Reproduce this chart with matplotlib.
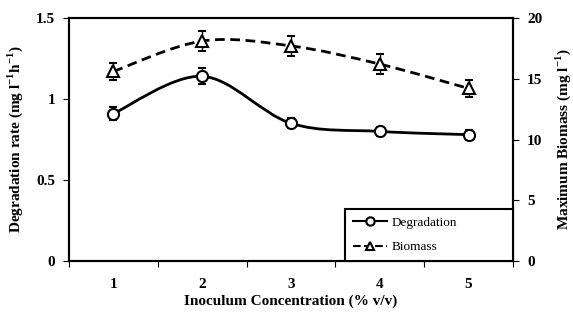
import numpy as np
import matplotlib
matplotlib.use("Agg")
import matplotlib.pyplot as plt
from matplotlib.path import Path
from matplotlib.patches import PathPatch
from matplotlib.lines import Line2D

plt.rcParams['font.family'] = ['Liberation Serif', 'DejaVu Serif']
plt.rcParams['font.weight'] = 'bold'
plt.rcParams['mathtext.fontset'] = 'custom'
plt.rcParams['mathtext.rm'] = 'Liberation Serif:bold'
plt.rcParams['mathtext.bf'] = 'Liberation Serif:bold'

concentration = [1, 2, 3, 4, 5]
degradation = [0.91, 1.14, 0.85, 0.80, 0.78]
degradation_err = [0.04, 0.05, 0.03, 0.03, 0.03]
biomass = [15.6, 18.1, 17.7, 16.2, 14.2]
biomass_err = [0.7, 0.8, 0.8, 0.8, 0.7]
x_tick_labels = ['1', '2', '3', '4', '5']


def smooth_path(x, y, tension=0.5):
    """Catmull-Rom style Bezier path through the data points."""
    x = np.asarray(x, float)
    y = np.asarray(y, float)
    verts = [(x[0], y[0])]
    codes = [Path.MOVETO]
    n = len(x)
    for i in range(n - 1):
        x0, y0 = (x[i - 1], y[i - 1]) if i > 0 else (x[i], y[i])
        x3, y3 = (x[i + 2], y[i + 2]) if i + 2 < n else (x[i + 1], y[i + 1])
        c1 = (x[i] + (x[i + 1] - x0) * tension / 3, y[i] + (y[i + 1] - y0) * tension / 3)
        c2 = (x[i + 1] - (x3 - x[i]) * tension / 3, y[i + 1] - (y3 - y[i]) * tension / 3)
        verts += [c1, c2, (x[i + 1], y[i + 1])]
        codes += [Path.CURVE4] * 3
    return Path(verts, codes)


fig = plt.figure(figsize=(5.73, 3.2), dpi=100)
ax = fig.add_axes([0.1204, 0.184, 0.7749, 0.76])
ax2 = ax.twinx()

ax.add_patch(PathPatch(smooth_path(concentration, degradation, 0.5), fill=False,
                       lw=2.0, color='black', zorder=2))
ax.errorbar(concentration, degradation, yerr=degradation_err, fmt='o', ms=8,
            mfc='white', mec='black', mew=1.5, ecolor='black', elinewidth=1,
            capsize=3, zorder=3)

ax2.add_patch(PathPatch(smooth_path(concentration, biomass, 0.5), fill=False,
                        lw=2.0, color='black', ls=(0, (3.5, 2)), zorder=2))
ax2.errorbar(concentration, biomass, yerr=biomass_err, fmt='^', ms=8,
             mfc='white', mec='black', mew=1.5, ecolor='black', elinewidth=1,
             capsize=3, zorder=3)

ax.set_xlim(0.5, 5.5)
ax.set_ylim(0, 1.5)
ax2.set_ylim(0, 20)
ax.set_yticks([0, 0.5, 1, 1.5])
ax.set_yticklabels(['0', '0.5', '1', '1.5'])
ax2.set_yticks([0, 5, 10, 15, 20])

ax.set_xticks([0.5, 1.5, 2.5, 3.5, 4.5, 5.5])
ax.set_xticklabels([])
ax.set_xticks(concentration, minor=True)
ax.set_xticklabels(x_tick_labels, minor=True)
ax.tick_params(axis='x', which='minor', length=0, pad=12, labelsize=11)
ax.tick_params(axis='x', which='major', length=4, direction='out')
ax.tick_params(axis='y', length=4, direction='out', labelsize=11, pad=6)
ax2.tick_params(axis='y', length=4, direction='out', labelsize=11, pad=6)

for a in (ax, ax2):
    for s in a.spines.values():
        s.set_linewidth(1.5)

ax.set_xlabel('Inoculum Concentration (% v/v)', fontsize=11, fontweight='bold', labelpad=3)
ax.set_ylabel('Degradation rate (mg l$^{-1}$h$^{-1}$)', fontsize=11,
              fontweight='bold', labelpad=8)
ax2.set_ylabel('Maximum Biomass (mg l$^{-1}$)', fontsize=11, fontweight='bold',
               labelpad=8)

handles = [
    Line2D([], [], color='black', lw=1.5, marker='o', ms=6, mfc='white', mew=1.5),
    Line2D([], [], color='black', lw=1.5, ls='--', marker='^', ms=6, mfc='white', mew=1.5),
]
leg = ax2.legend(handles, ['Degradation', 'Biomass'], loc='lower left',
                 bbox_to_anchor=(0.622, 0.0, 0.378, 0.21), mode='expand',
                 fancybox=False, edgecolor='black',
                 framealpha=1, prop={'family': 'Liberation Serif', 'size': 9.5, 'weight': 'normal'},
                 handlelength=2.6, borderaxespad=0, handletextpad=0.3,
                 labelspacing=0.9, borderpad=0.6)
leg.get_frame().set_linewidth(1.5)

fig.savefig('out.png', dpi=100)
